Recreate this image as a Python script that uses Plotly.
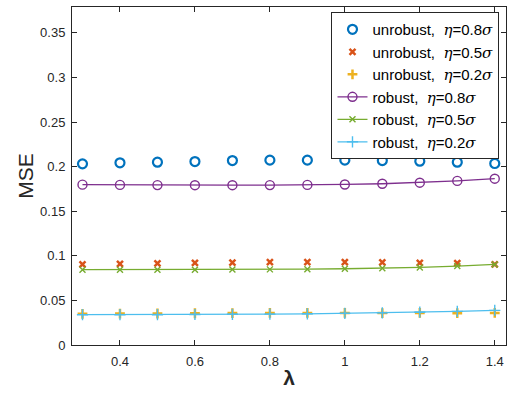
import plotly.graph_objects as go

lam = [0.3, 0.4, 0.5, 0.6, 0.7, 0.8, 0.9, 1.0, 1.1, 1.2, 1.3, 1.4]
unrobust_08 = [0.2031, 0.2043, 0.2050, 0.2057, 0.2068, 0.2073, 0.2073, 0.2073, 0.2068, 0.2061, 0.2050, 0.2035]
unrobust_05 = [0.0905, 0.0910, 0.0915, 0.0920, 0.0925, 0.0930, 0.0930, 0.0930, 0.0927, 0.0922, 0.0918, 0.0905]
unrobust_02 = [0.0350, 0.0352, 0.0353, 0.0356, 0.0358, 0.0360, 0.0360, 0.0360, 0.0358, 0.0360, 0.0357, 0.0360]
robust_08 = [0.1798, 0.1795, 0.1793, 0.1792, 0.1792, 0.1793, 0.1795, 0.1800, 0.1808, 0.1820, 0.1840, 0.1865]
robust_05 = [0.0845, 0.0845, 0.0845, 0.0845, 0.0846, 0.0848, 0.0850, 0.0855, 0.0860, 0.0870, 0.0885, 0.0903]
robust_02 = [0.0340, 0.0340, 0.0340, 0.0342, 0.0344, 0.0346, 0.0350, 0.0355, 0.0360, 0.0368, 0.0377, 0.0388]

x_ticks = [0.4, 0.6, 0.8, 1.0, 1.2, 1.4]
x_ticklabels = ["0.4", "0.6", "0.8", "1", "1.2", "1.4"]
y_ticks = [0, 0.05, 0.1, 0.15, 0.2, 0.25, 0.3, 0.35]
y_ticklabels = ["0", "0.05", "0.1", "0.15", "0.2", "0.25", "0.3", "0.35"]

def lab(kind, v):
    return f"{kind},  <span style='font-family:\"DejaVu Serif\",serif'><i>η</i></span>={v}<span style='font-family:\"DejaVu Serif\",serif'><i>σ</i></span>"

fig = go.Figure()
fig.add_trace(go.Scatter(x=lam, y=unrobust_08, mode="markers", name=lab("unrobust", "0.8"),
                         marker=dict(symbol="circle-open", size=9, color="#0072BD", line=dict(width=2.2))))
fig.add_trace(go.Scatter(x=lam, y=unrobust_05, mode="markers", name=lab("unrobust", "0.5"),
                         marker=dict(symbol="x-thin-open", size=6, color="#D95319", line=dict(width=2.5))))
fig.add_trace(go.Scatter(x=lam, y=unrobust_02, mode="markers", name=lab("unrobust", "0.2"),
                         marker=dict(symbol="cross-thin-open", size=7, color="#EDB120", line=dict(width=2.5))))
fig.add_trace(go.Scatter(x=lam, y=robust_08, mode="lines+markers", name=lab("robust", "0.8"),
                         line=dict(color="#7E2F8E", width=1.3),
                         marker=dict(symbol="circle-open", size=9, color="#7E2F8E", line=dict(width=1.4))))
fig.add_trace(go.Scatter(x=lam, y=robust_05, mode="lines+markers", name=lab("robust", "0.5"),
                         line=dict(color="#77AC30", width=1.3),
                         marker=dict(symbol="x-thin-open", size=6, color="#77AC30", line=dict(width=1.4))))
fig.add_trace(go.Scatter(x=lam, y=robust_02, mode="lines+markers", name=lab("robust", "0.2"),
                         line=dict(color="#4DBEEE", width=1.3),
                         marker=dict(symbol="cross-thin-open", size=8, color="#4DBEEE", line=dict(width=1.4))))

axis_common = dict(showline=True, linecolor="#262626", linewidth=1, mirror="ticks",
                   ticks="inside", ticklen=5, tickcolor="#262626", showgrid=False, zeroline=False,
                   tickfont=dict(family="Liberation Sans, Arial, sans-serif", size=13, color="#262626"))

fig.update_layout(
    width=507, height=398,
    margin=dict(l=72, r=1, t=7, b=53),
    paper_bgcolor="white", plot_bgcolor="white",
    showlegend=True,
    legend=dict(x=0.985, y=0.985, xanchor="right", yanchor="top",
                bgcolor="white", bordercolor="#262626", borderwidth=1,
                font=dict(family="Liberation Sans, Arial, sans-serif", size=15, color="#000000"),
                tracegroupgap=0, itemwidth=30),
    xaxis=dict(range=[0.272, 1.43], tickvals=x_ticks, ticktext=x_ticklabels,
               ticklabelstandoff=4,
               title=dict(text="<b>λ</b>", font=dict(family="Liberation Sans, Arial, sans-serif", size=21, color="#262626"), standoff=2),
               **axis_common),
    yaxis=dict(range=[0, 0.379], tickvals=y_ticks, ticktext=y_ticklabels,
               ticklabelstandoff=3,
               title=dict(text="MSE", font=dict(family="Liberation Sans, Arial, sans-serif", size=21, color="#262626"), standoff=0),
               **axis_common),
)

fig.write_html("out.html")
